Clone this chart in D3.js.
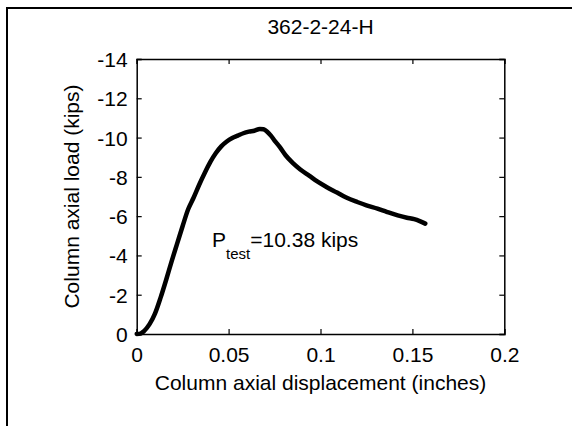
<!DOCTYPE html>
<html>
<head>
<meta charset="utf-8">
<script src="https://cdn.jsdelivr.net/npm/d3@7"></script>
<style>
  html, body { margin: 0; padding: 0; background: #fff; }
  svg { display: block; }
  text { font-family: "Liberation Sans", Arial, sans-serif; fill: #000; }
</style>
</head>
<body>
<svg id="chart" width="572" height="426"></svg>
<script>
const chartTitle = "362-2-24-H";
const xLabel = "Column axial displacement (inches)";
const yLabel = "Column axial load (kips)";
const displacement = [0, 0.002, 0.004, 0.007, 0.010, 0.013, 0.016, 0.019, 0.022, 0.025, 0.028, 0.031, 0.034, 0.037, 0.040, 0.043, 0.046, 0.049, 0.052, 0.055, 0.058, 0.061, 0.064, 0.067, 0.069, 0.071, 0.073, 0.075, 0.078, 0.081, 0.085, 0.089, 0.094, 0.098, 0.103, 0.109, 0.114, 0.120, 0.125, 0.131, 0.136, 0.142, 0.147, 0.151, 0.154, 0.157];
const load = [0, -0.02, -0.15, -0.5, -1.05, -1.85, -2.75, -3.7, -4.6, -5.5, -6.35, -6.95, -7.6, -8.2, -8.75, -9.2, -9.55, -9.8, -9.98, -10.1, -10.22, -10.3, -10.35, -10.44, -10.42, -10.3, -10.1, -9.85, -9.5, -9.1, -8.7, -8.38, -8.05, -7.78, -7.5, -7.2, -6.95, -6.72, -6.55, -6.38, -6.22, -6.04, -5.92, -5.85, -5.75, -5.62];
const xTicks = [0, 0.05, 0.1, 0.15, 0.2];
const xTickLabels = ["0", "0.05", "0.1", "0.15", "0.2"];
const yTicks = [0, -2, -4, -6, -8, -10, -12, -14];
const yTickLabels = ["0", "-2", "-4", "-6", "-8", "-10", "-12", "-14"];
const annotationMain = "P";
const annotationSub = "test";
const annotationRest = "=10.38 kips";
const annotationPos = [0.041, -4.43];

const svg = d3.select("#chart");
const L = 136.7, R = 504.3, T = 59, B = 334;
const x = d3.scaleLinear().domain([0, 0.2]).range([L, R]);
const y = d3.scaleLinear().domain([0, -14]).range([B, T]);

// outer frame
svg.append("rect").attr("x", 7).attr("y", 8).attr("width", 600).attr("height", 500)
  .attr("fill", "none").attr("stroke", "#000").attr("stroke-width", 2);

const fs = 21;
const tickLen = 5;

// axes with inward ticks
const xAxisB = d3.axisBottom(x).tickValues(xTicks).tickSize(-tickLen).tickPadding(tickLen + 8)
  .tickFormat((d, i) => xTickLabels[i]);
const gxb = svg.append("g").attr("transform", `translate(0,${B})`).call(xAxisB);
const xAxisT = d3.axisTop(x).tickValues(xTicks).tickSize(-tickLen).tickFormat("");
const gxt = svg.append("g").attr("transform", `translate(0,${T})`).call(xAxisT);
const yAxisL = d3.axisLeft(y).tickValues(yTicks).tickSize(-tickLen).tickPadding(tickLen + 4)
  .tickFormat((d, i) => yTickLabels[i]);
const gyl = svg.append("g").attr("transform", `translate(${L},0)`).call(yAxisL);
const yAxisR = d3.axisRight(y).tickValues(yTicks).tickSize(-tickLen).tickFormat("");
const gyr = svg.append("g").attr("transform", `translate(${R},0)`).call(yAxisR);

[gxb, gxt, gyl, gyr].forEach(g => {
  g.select(".domain").attr("stroke", "#000").attr("stroke-width", 1.5);
  g.selectAll(".tick line").attr("stroke", "#000").attr("stroke-width", 1.2);
  g.selectAll(".tick text").attr("font-size", fs).attr("font-family", "Liberation Sans, Arial, sans-serif").attr("fill", "#000");
});
gxb.selectAll(".tick text").attr("dy", "0.71em");
gyl.selectAll(".tick text").attr("dy", "0.36em");

// curve
const pts = displacement.map((d, i) => [d, load[i]]);
svg.append("path").datum(pts)
  .attr("fill", "none").attr("stroke", "#000").attr("stroke-width", 4.5)
  .attr("stroke-linejoin", "round").attr("stroke-linecap", "round")
  .attr("d", d3.line().x(d => x(d[0])).y(d => y(d[1])).curve(d3.curveMonotoneX));

// titles
svg.append("text").attr("x", (L + R) / 2).attr("y", 34).attr("text-anchor", "middle")
  .attr("font-size", fs).text(chartTitle);
svg.append("text").attr("x", (L + R) / 2).attr("y", 390).attr("text-anchor", "middle")
  .attr("font-size", fs).text(xLabel);
svg.append("text").attr("transform", `translate(79,${(T + B) / 2}) rotate(-90)`)
  .attr("text-anchor", "middle").attr("font-size", fs).text(yLabel);

// annotation
const ann = svg.append("text").attr("x", x(annotationPos[0])).attr("y", y(annotationPos[1]))
  .attr("font-size", fs);
ann.append("tspan").text(annotationMain);
ann.append("tspan").attr("font-size", 15).attr("dy", 12).text(annotationSub);
ann.append("tspan").attr("dy", -12).text(annotationRest);
</script>
</body>
</html>
